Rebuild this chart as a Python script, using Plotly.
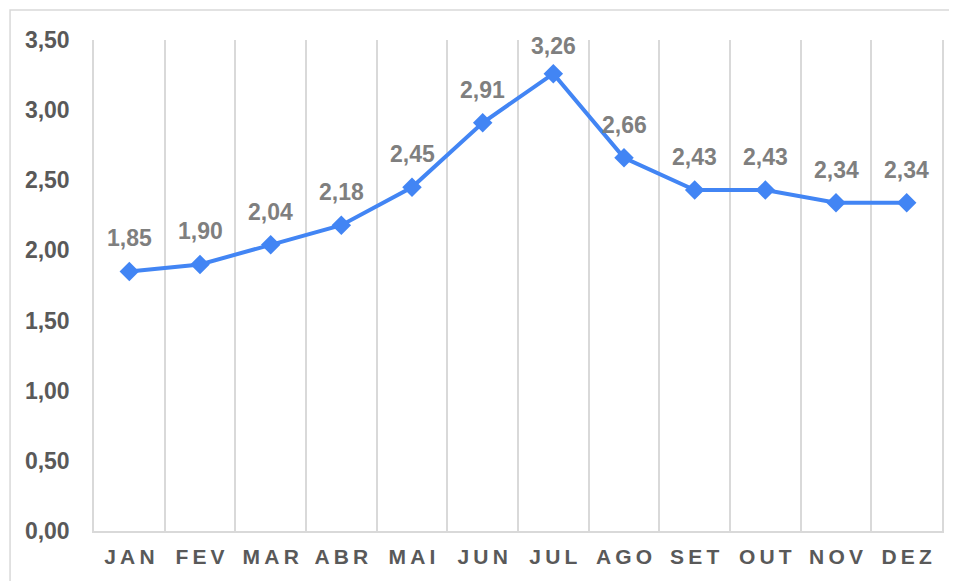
"""Grafico de linha mensal com rotulos de dados."""

import plotly.graph_objects as go

MESES = ["JAN", "FEV", "MAR", "ABR", "MAI", "JUN", "JUL", "AGO", "SET", "OUT", "NOV", "DEZ"]
VALORES = [1.85, 1.90, 2.04, 2.18, 2.45, 2.91, 3.26, 2.66, 2.43, 2.43, 2.34, 2.34]
Y_TICKS = [0, 0.5, 1.0, 1.5, 2.0, 2.5, 3.0, 3.5]

AZUL = "#4285F4"
CINZA_EIXO = "#595959"
CINZA_ROTULO = "#7f7f7f"
GRADE = "#d9d9d9"
FONTE = "Liberation Sans, Arial, sans-serif"


def br(v):
    return f"{v:.2f}".replace(".", ",")


fig = go.Figure()
fig.add_trace(
    go.Scatter(
        x=MESES,
        y=VALORES,
        mode="lines+markers",
        line=dict(color=AZUL, width=4),
        marker=dict(symbol="diamond", size=15, color=AZUL),
        cliponaxis=False,
        hoverinfo="skip",
    )
)

# rotulos de dados acima dos pontos (o pico fica um pouco mais baixo, como no Excel)
for m, v in zip(MESES, VALORES):
    fig.add_annotation(
        x=m,
        y=v,
        text=br(v),
        showarrow=False,
        yshift=28 if v == max(VALORES) else 33,
        font=dict(family=FONTE, size=23, color=CINZA_ROTULO, weight="bold"),
    )

# a pagina tem 8px de margem no body, por isso as margens estao compensadas
fig.update_layout(
    width=957,
    height=581,
    margin=dict(l=86, r=23, t=32, b=58),
    paper_bgcolor="white",
    plot_bgcolor="white",
    showlegend=False,
    font=dict(family=FONTE),
    shapes=[
        dict(
            type="rect",
            xref="paper",
            yref="paper",
            x0=-0.099,
            x1=1.05,
            y0=-0.2,
            y1=1.061,
            line=dict(color=GRADE, width=1.5),
            layer="below",
        )
    ],
)
fig.update_xaxes(
    type="category",
    tickson="boundaries",
    tickmode="array",
    tickvals=MESES,
    ticktext=["\u2009".join(m) for m in MESES],
    range=[-0.5, 11.5],
    showgrid=True,
    gridcolor=GRADE,
    gridwidth=1.5,
    showline=True,
    linecolor=GRADE,
    linewidth=1.5,
    ticks="",
    tickfont=dict(family=FONTE, size=21, color=CINZA_EIXO, weight="bold"),
    ticklabelstandoff=6,
)
fig.update_yaxes(
    range=[0, 3.5],
    tickvals=Y_TICKS,
    ticktext=[br(v) for v in Y_TICKS],
    showgrid=False,
    zeroline=False,
    showline=True,
    mirror=True,
    linecolor=GRADE,
    linewidth=1.5,
    ticks="",
    tickfont=dict(family=FONTE, size=23, color=CINZA_EIXO, weight="bold"),
    ticklabelstandoff=18,
)

fig.write_html("out.html")
